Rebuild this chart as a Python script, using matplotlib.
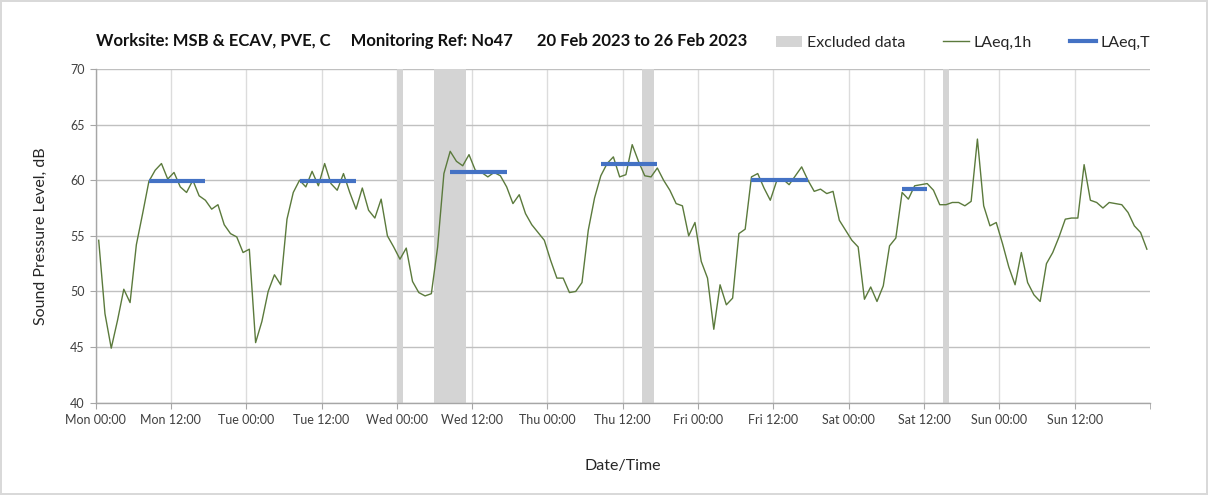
import matplotlib
matplotlib.use("Agg")
import matplotlib.pyplot as plt
import numpy as np
from matplotlib.patches import Patch
from matplotlib.lines import Line2D

# Hourly LAeq,1h values (dB), Mon 00:00 -> Sun 23:00
laeq_1h = [
    54.6, 48.0, 44.9, 47.4, 50.2, 49.0, 54.2, 57.0, 59.9, 60.9, 61.5, 60.1,
    60.7, 59.4, 58.9, 60.0, 58.6, 58.2, 57.4, 57.8, 56.0, 55.2, 54.9, 53.5,
    53.8, 45.4, 47.3, 50.0, 51.5, 50.6, 56.5, 58.9, 60.0, 59.4, 60.8, 59.5,
    61.5, 59.7, 59.1, 60.6, 58.9, 57.4, 59.3, 57.3, 56.6, 58.3, 55.0, 54.0,
    52.9, 53.9, 50.9, 49.9, 49.6, 49.8, 54.0, 60.6, 62.6, 61.7, 61.3, 62.3,
    60.9, 60.7, 60.3, 60.7, 60.4, 59.4, 57.9, 58.7, 57.0, 56.0, 55.3, 54.6,
    52.8, 51.2, 51.2, 49.9, 50.0, 50.8, 55.5, 58.4, 60.4, 61.5, 62.1, 60.3,
    60.5, 63.2, 61.7, 60.4, 60.3, 61.1, 60.0, 59.1, 57.9, 57.7, 55.0, 56.2,
    52.7, 51.2, 46.6, 50.6, 48.8, 49.4, 55.2, 55.6, 60.3, 60.6, 59.3, 58.2,
    59.9, 60.1, 59.6, 60.4, 61.2, 60.0, 59.0, 59.2, 58.8, 59.0, 56.4, 55.5,
    54.6, 54.0, 49.3, 50.4, 49.1, 50.5, 54.1, 54.8, 58.9, 58.3, 59.5, 59.6,
    59.7, 59.1, 57.8, 57.8, 58.0, 58.0, 57.7, 58.1, 63.7, 57.7, 55.9, 56.2,
    54.3, 52.2, 50.6, 53.5, 50.8, 49.7, 49.1, 52.5, 53.5, 54.9, 56.5, 56.6,
    56.6, 61.4, 58.2, 58.0, 57.5, 58.0, 57.9, 57.8, 57.1, 55.9, 55.3, 53.8,
]

# Daytime LAeq,T periods: first hour, last hour, level
laeqT_start = [8, 32, 56, 80, 104, 128]
laeqT_end = [17, 41, 65, 89, 113, 132]
laeqT_value = [59.9, 59.9, 60.7, 61.5, 60.0, 59.2]

# Excluded data periods (hours from Mon 00:00)
excl_start = [48, 54, 87, 135]
excl_end = [49, 59, 89, 136]

tick_labels = ["Mon 00:00", "Mon 12:00", "Tue 00:00", "Tue 12:00", "Wed 00:00",
               "Wed 12:00", "Thu 00:00", "Thu 12:00", "Fri 00:00", "Fri 12:00",
               "Sat 00:00", "Sat 12:00", "Sun 00:00", "Sun 12:00"]

plt.rcParams["font.family"] = ["Lato", "DejaVu Sans"]

green = "#5b7a3c"
blue = "#4472c4"
band = "#d4d4d4"

fig = plt.figure(figsize=(12.08, 4.95), dpi=100)
fig.patch.set_edgecolor("#d9d9d9")
fig.patch.set_linewidth(1.5)
ax = fig.add_axes([0.0791, 0.1865, 0.8729, 0.6741])

hours = np.arange(len(laeq_1h)) + 0.5

for s, e in zip(excl_start, excl_end):
    ax.axvspan(s, e, color=band, lw=0, zorder=1)

ax.plot(hours, laeq_1h, color=green, lw=1.0, zorder=3)

for s, e, v in zip(laeqT_start, laeqT_end, laeqT_value):
    ax.plot([s + 0.5, e + 0.5], [v, v], color=blue, lw=3, solid_capstyle="butt", zorder=4)

ax.set_xlim(0, 168)
ax.set_ylim(40, 70)
ax.set_xticks(np.arange(0, 168, 12))
ax.set_xticklabels(tick_labels)
ax.set_xticks([168], minor=True)
ax.set_yticks(np.arange(40, 71, 5))

ax.grid(axis="y", color="#c0c0c0", lw=1.0, zorder=0)
ax.grid(axis="x", color="#dcdcdc", lw=1.0, zorder=0)
ax.set_axisbelow(True)

for side in ["top", "right"]:
    ax.spines[side].set_visible(False)
for side in ["left", "bottom"]:
    ax.spines[side].set_color("#a6a6a6")
    ax.spines[side].set_linewidth(1.0)

ax.tick_params(axis="both", which="both", direction="out", color="#a6a6a6",
               length=4, labelsize=9, labelcolor="#404040", pad=4)

ax.set_ylabel("Sound Pressure Level, dB", fontsize=11.5, color="#262626", labelpad=16)
ax.set_xlabel("Date/Time", fontsize=11.5, color="#262626", labelpad=24)

fig.text(96 / 1208, 1 - 41 / 495,
         "Worksite: MSB & ECAV, PVE, C     Monitoring Ref: No47      20 Feb 2023 to 26 Feb 2023",
         fontsize=12, fontweight="bold", ha="left", va="center", color="#111111")

handles = [Patch(color=band, lw=0),
           Line2D([0], [0], color=green, lw=1.0),
           Line2D([0], [0], color=blue, lw=3)]
fig.legend(handles, ["Excluded data", "LAeq,1h", "LAeq,T"], loc="center left",
           bbox_to_anchor=(762 / 1208, 1 - 43 / 495), ncol=3, frameon=False,
           fontsize=11.5, handlelength=1.6, handletextpad=0.3, columnspacing=2.4,
           labelcolor="#262626")

fig.savefig("out.png", dpi=100)
